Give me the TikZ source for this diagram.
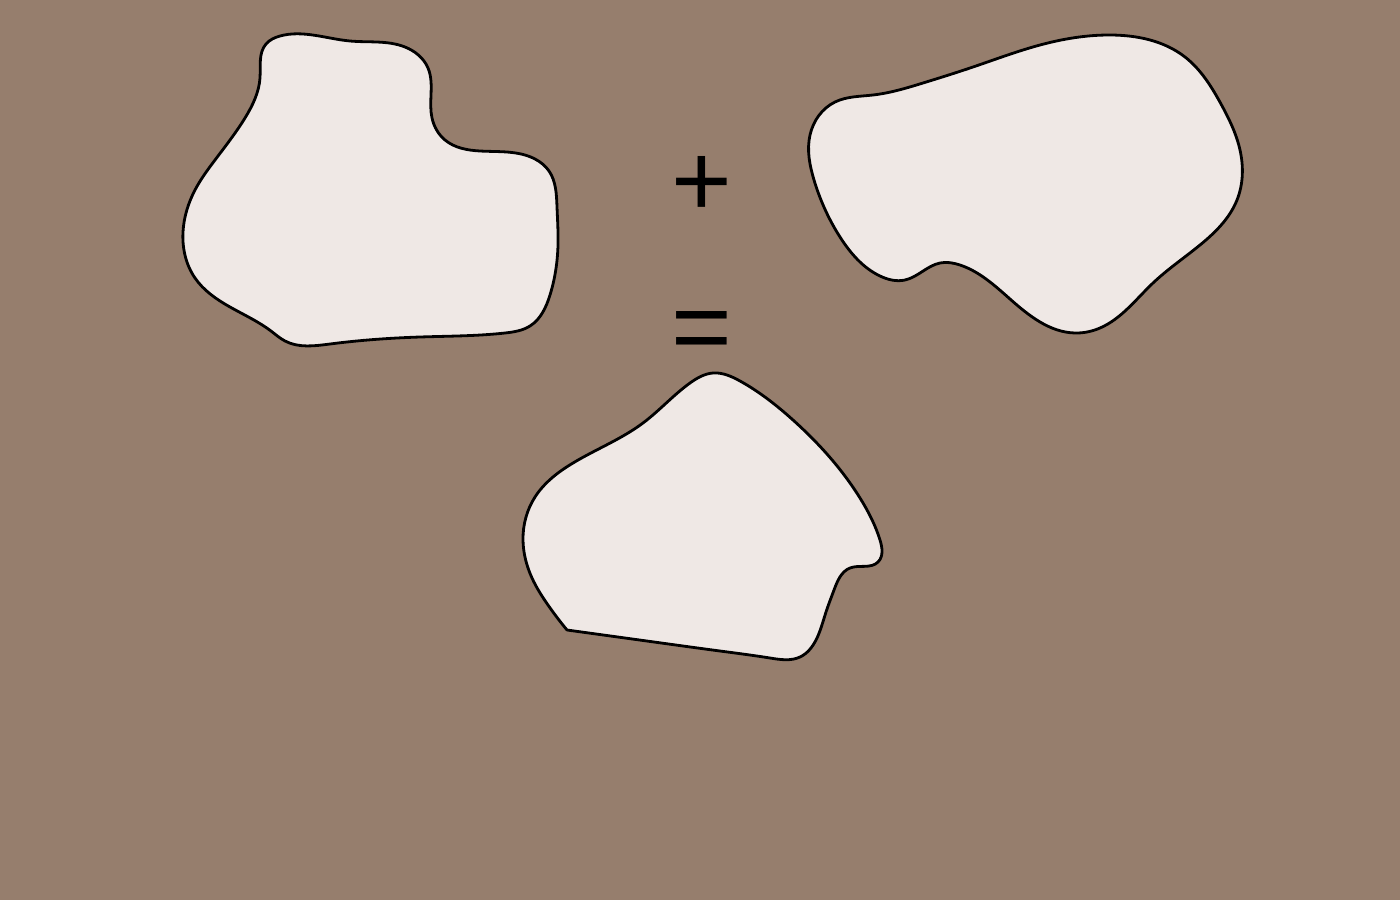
\documentclass[tikz,border=0pt]{standalone}
\usepackage{fontspec}
\usetikzlibrary{hobby}
\newfontfamily\symfont{Liberation Sans}
\definecolor{bg}{HTML}{967E6D}
\definecolor{blobfill}{HTML}{EFE8E5}
\begin{document}
\begin{tikzpicture}[x=1pt,y=-1pt,
  blob/.style={fill=blobfill,draw=black,line width=2.8pt,line join=round},
  sym/.style={font=\symfont\fontsize{104}{104}\selectfont,inner sep=0pt,text=black}]
\fill[bg] (0,0) rectangle (1400,900);
\useasboundingbox (0,0) rectangle (1400,900);
% left blob
\draw[blob,use Hobby shortcut,closed=true]
 (280,36) .. (350,41) .. (405,47) .. (428,68) .. (431,95) .. (432,118) .. (445,140)
 .. (480,151) .. (535,159) .. (549,171) .. (557,207) .. (558,245) .. (550,295) .. (530,326)
 .. (505,333) .. (420,337) .. (330,344) .. (285,341) .. (271,331)
 .. (230,307) .. (195,278) .. (183,232) .. (195,190) .. (215,160) .. (245,118) .. (260,78) .. (266,44);
% right blob
\draw[blob,use Hobby shortcut,closed=true]
 (1110,35) .. (1185,57) .. (1221,104) .. (1240,150) .. (1237,200)
 .. (1200,245) .. (1153,283) .. (1100,328) .. (1075,333)
 .. (1010,299) .. (960,265) .. (940,263) .. (905,280) .. (880,276)
 .. (840,237) .. (814,180) .. (810,135) .. (835,102) .. (873,95) .. (923,83) .. (973,67)
 .. (1040,45);
% bottom blob
\draw[blob,use Hobby shortcut]
 (567,630) .. (620,637.3) .. (670,644.2) .. (720,651) .. (770,658) .. (800,657) .. (816,640) .. (826,612) .. (834,590)
 .. (850,568) .. (878,562) .. (880,540) .. (860,498)
 .. (793,420) .. (740,381) .. (713,373) .. (690,383) .. (643,423)
 .. (573,463) .. (535,497) .. (523,540) .. (532,578) .. (548,605) .. (567,630) -- cycle;
\node[sym] (plus) at (702,186) {+};
\node[sym] (eq) at (702,337) {=};
\end{tikzpicture}
\end{document}
